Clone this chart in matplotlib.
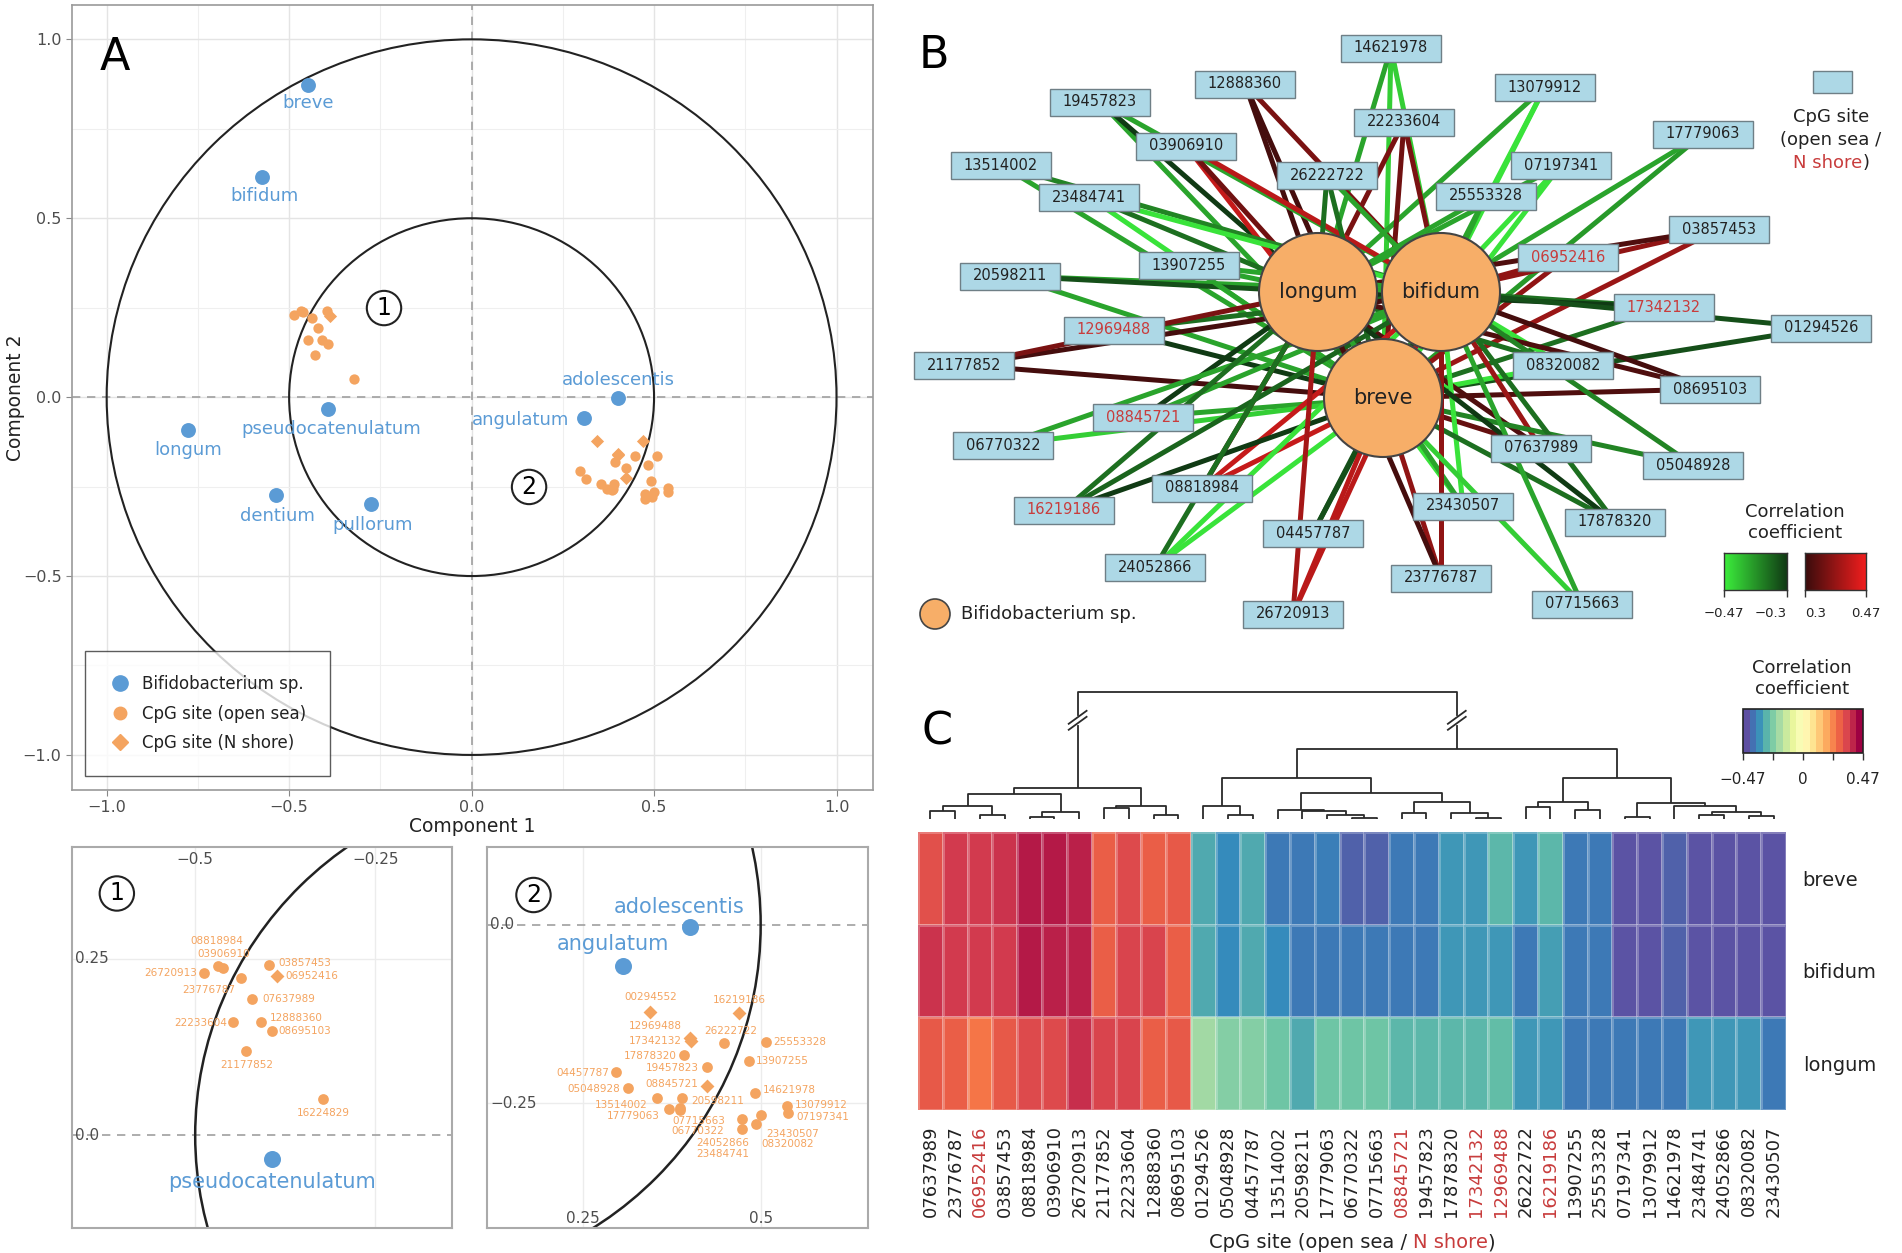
import numpy as np
import matplotlib
matplotlib.use("Agg")
import matplotlib.pyplot as plt
from matplotlib.patches import Circle, Rectangle
from matplotlib.colors import LinearSegmentedColormap, Normalize
from matplotlib.lines import Line2D
from matplotlib.cm import ScalarMappable

plt.rcParams['font.family'] = ['DejaVu Sans']

# ---------------- data ----------------
# Panel A: component scores of the species
species = ["breve", "bifidum", "longum", "pseudocatenulatum", "dentium",
           "pullorum", "adolescentis", "angulatum"]
species_c1 = [-0.447, -0.573, -0.778, -0.394, -0.537, -0.277, 0.401, 0.307]
species_c2 = [0.873, 0.615, -0.093, -0.033, -0.273, -0.299, -0.003, -0.057]

# Panel A: component scores of the CpG sites
cpg_ids = ["08818984", "03906910", "26720913", "23776787", "03857453", "06952416",
           "07637989", "22233604", "12888360", "08695103", "21177852", "16224829",
           "00294552", "16219186", "12969488", "17342132", "26222722", "25553328",
           "17878320", "13907255", "19457823", "04457787", "08845721", "14621978",
           "05048928", "13514002", "20598211", "17779063", "07715663", "06770322",
           "13079912", "07197341", "24052866", "23484741", "23430507", "08320082"]
cpg_c1 = [-0.468, -0.461, -0.488, -0.436, -0.397, -0.387, -0.421, -0.448, -0.409, -0.393,
          -0.429, -0.322, 0.345, 0.470, 0.400, 0.402, 0.448, 0.507, 0.392, 0.483, 0.424,
          0.296, 0.424, 0.492, 0.313, 0.354, 0.390, 0.371, 0.387, 0.386, 0.537, 0.539,
          0.474, 0.474, 0.501, 0.494]
cpg_c2 = [0.240, 0.237, 0.230, 0.222, 0.241, 0.226, 0.193, 0.160, 0.160, 0.148, 0.119,
          0.052, -0.122, -0.123, -0.158, -0.162, -0.165, -0.164, -0.182, -0.191, -0.199,
          -0.206, -0.225, -0.235, -0.229, -0.242, -0.242, -0.258, -0.256, -0.259, -0.254,
          -0.264, -0.272, -0.286, -0.266, -0.279]
shore_sites = ["06952416", "00294552", "16219186", "12969488", "17342132", "08845721"]

# Panel C: correlation matrix (columns in dendrogram order)
heat_sites = ["07637989", "23776787", "06952416", "03857453", "08818984", "03906910",
              "26720913", "21177852", "22233604", "12888360", "08695103", "01294526",
              "05048928", "04457787", "13514002", "20598211", "17779063", "06770322",
              "07715663", "08845721", "19457823", "17878320", "17342132", "12969488",
              "26222722", "16219186", "13907255", "25553328", "07197341", "13079912",
              "14621978", "23484741", "24052866", "08320082", "23430507"]
heat_rows = ["breve", "bifidum", "longum"]
r_breve = [0.34, 0.38, 0.38, 0.39, 0.43, 0.43, 0.42, 0.31, 0.35, 0.31, 0.32,
           -0.32, -0.37, -0.32, -0.40, -0.40, -0.39, -0.44, -0.44, -0.40, -0.40,
           -0.35, -0.35, -0.30, -0.35, -0.30, -0.40, -0.40, -0.46, -0.46, -0.44,
           -0.46, -0.46, -0.46, -0.46]
r_bifidum = [0.39, 0.38, 0.38, 0.38, 0.43, 0.42, 0.42, 0.31, 0.36, 0.36, 0.31,
             -0.32, -0.37, -0.32, -0.37, -0.40, -0.40, -0.40, -0.40, -0.40, -0.40,
             -0.35, -0.35, -0.35, -0.40, -0.34, -0.40, -0.40, -0.46, -0.46, -0.44,
             -0.46, -0.46, -0.46, -0.46]
r_longum = [0.32, 0.31, 0.27, 0.32, 0.35, 0.35, 0.40, 0.36, 0.36, 0.31, 0.32,
            -0.20, -0.24, -0.24, -0.27, -0.32, -0.27, -0.27, -0.27, -0.30, -0.30,
            -0.30, -0.30, -0.29, -0.35, -0.35, -0.40, -0.40, -0.40, -0.40, -0.40,
            -0.35, -0.35, -0.35, -0.40]

# Panel C: dendrogram merges (child a, child b, height); leaves 0..34, nodes 35..
dendro_merges = [
    (0, 1, 8.3), (2, 3, 4.3), (35, 36, 13.3), (4, 5, 2.3), (38, 6, 7.6),
    (37, 39, 25.0), (7, 8, 11.0), (9, 10, 4.3), (41, 42, 13.3), (40, 43, 31.6),
    (12, 13, 4.3), (11, 45, 13.3), (17, 18, 1.0), (16, 47, 4.3), (15, 48, 8.3),
    (14, 49, 9.3), (22, 23, 1.0), (21, 51, 6.0), (19, 20, 6.0), (53, 52, 17.0),
    (50, 54, 26.0), (46, 55, 41.6), (24, 25, 12.3), (26, 27, 9.3), (57, 58, 17.0),
    (28, 29, 2.6), (31, 32, 4.3), (33, 34, 3.3), (61, 62, 7.6), (30, 63, 13.3),
    (60, 64, 16.5), (59, 65, 41.3), (56, 66, 70.3), (44, 67, 127.6),
]

# Panel B: network layout (pixel frame of the panel)
net_sites = ["14621978", "12888360", "19457823", "13079912", "22233604", "03906910",
             "17779063", "13514002", "07197341", "26222722", "23484741", "25553328",
             "03857453", "06952416", "20598211", "13907255", "17342132", "12969488",
             "01294526", "21177852", "08320082", "08695103", "08845721", "06770322",
             "07637989", "05048928", "08818984", "16219186", "23430507", "17878320",
             "04457787", "24052866", "23776787", "07715663", "26720913"]
net_x = [1391, 1245, 1100, 1545, 1404, 1186, 1703, 1001, 1561, 1327, 1089, 1486, 1719,
         1568, 1010, 1189, 1664, 1114, 1821, 964, 1563, 1710, 1143, 1003, 1541, 1693,
         1202, 1064, 1463, 1615, 1313, 1155, 1441, 1582, 1293]
net_y = [48, 84, 102, 87, 122, 146, 134, 165, 165, 175, 197, 196, 229, 257, 276, 265,
         307, 330, 328, 365, 365, 389, 417, 445, 448, 465, 488, 510, 506, 522, 533, 567,
         578, 604, 614]
hub_names = ["breve", "bifidum", "longum"]
hub_x = [1383, 1441, 1318]
hub_y = [398, 292, 292]

# ---------------- style ----------------
BLUE = '#5B9BD5'
ORANGE = '#F4A460'
HUB = '#F7AE68'
BOXC = '#ADD8E6'
RED_TXT = '#C83C3C'
DARK = '#222222'

W, H = 1902, 1253
fig = plt.figure(figsize=(W / 100, H / 100), dpi=100)


def add_px_axes(x0, y0, x1, y1):
    return fig.add_axes([x0 / W, 1 - y1 / H, (x1 - x0) / W, (y1 - y0) / H])


def fig_text(x, y, s, **kw):
    return fig.text(x / W, 1 - y / H, s, **kw)


def colored_line(x, y, parts, size, gap=0.0):
    """Centered line of text made of differently coloured pieces."""
    rend = fig.canvas.get_renderer()
    items = [fig.text(0, 0, s, color=c, fontsize=size, ha='left', va='center')
             for s, c in parts]
    widths = [t.get_window_extent(rend).width for t in items]
    gaps = [gap if i == 0 else 0 for i in range(len(items) - 1)]
    cur = x - (sum(widths) + sum(gaps)) / 2
    for i, t in enumerate(items):
        t.set_position((cur / W, 1 - y / H))
        cur += widths[i] + (gaps[i] if i < len(gaps) else 0)


is_shore = np.array([c in shore_sites for c in cpg_ids])
cx = np.array(cpg_c1)
cy = np.array(cpg_c2)

# ---------------- panel A ----------------
axA = add_px_axes(72, 5, 873, 790)
axA.set_xlim(-1.095, 1.10)
axA.set_ylim(-1.098, 1.096)
ticks = [-1, -0.5, 0, 0.5, 1]
axA.set_xticks(ticks)
axA.set_yticks(ticks)
axA.set_xticks([-0.75, -0.25, 0.25, 0.75], minor=True)
axA.set_yticks([-0.75, -0.25, 0.25, 0.75], minor=True)
axA.grid(which='major', color='#e4e4e4', lw=1.0)
axA.grid(which='minor', color='#efefef', lw=0.8)
axA.set_axisbelow(True)
axA.tick_params(which='minor', length=0)
axA.tick_params(which='major', length=4, color='#888888', labelsize=11.5,
                labelcolor='#4d4d4d')
for sp in axA.spines.values():
    sp.set_color('#9a9a9a')
    sp.set_linewidth(1.2)
axA.axhline(0, color='#a0a0a0', ls=(0, (5, 4)), lw=1.2, zorder=1)
axA.axvline(0, color='#a0a0a0', ls=(0, (5, 4)), lw=1.2, zorder=1)
for rad in (1.0, 0.5):
    axA.add_patch(Circle((0, 0), rad, fill=False, ec=DARK, lw=1.5, zorder=2))

axA.scatter(cx[~is_shore], cy[~is_shore], s=55, color=ORANGE, lw=0, zorder=3)
axA.scatter(cx[is_shore], cy[is_shore], s=45, marker='D', color=ORANGE, lw=0, zorder=3)
axA.scatter(species_c1, species_c2, s=115, color=BLUE, lw=0, zorder=4)

main_label_off = {"breve": (0, 18, 'center'), "bifidum": (2, 19, 'center'),
                  "longum": (0, 20, 'center'), "pseudocatenulatum": (3, 20, 'center'),
                  "dentium": (2, 21, 'center'), "pullorum": (2, 21, 'center'),
                  "adolescentis": (0, -18, 'center'), "angulatum": (-14, 2, 'right')}
for name, x, y in zip(species, species_c1, species_c2):
    dx, dy, ha = main_label_off[name]
    axA.annotate(name, (x, y), xytext=(dx, -dy), textcoords='offset pixels',
                 ha=ha, va='center', fontsize=13, color=BLUE, zorder=5)

circ = dict(boxstyle='circle,pad=0.22', fc='white', ec=DARK, lw=1.5)
axA.text(-0.240, 0.249, '1', fontsize=17, ha='center', va='center', bbox=circ, zorder=5)
axA.text(0.1575, -0.251, '2', fontsize=17, ha='center', va='center', bbox=circ, zorder=5)

axA.set_xlabel('Component 1', fontsize=13.5, color=DARK)
axA.set_ylabel('Component 2', fontsize=13.5, color=DARK)
axA.xaxis.label.set_va('center')
axA.yaxis.label.set_va('center')
axA.xaxis.set_label_coords(0.5, -0.046)
axA.yaxis.set_label_coords(-0.070, 0.5)

handles = [Line2D([], [], marker='o', ls='', color=BLUE, ms=11, label='Bifidobacterium sp.'),
           Line2D([], [], marker='o', ls='', color=ORANGE, ms=9, label='CpG site (open sea)'),
           Line2D([], [], marker='D', ls='', color=ORANGE, ms=8, label='CpG site (N shore)')]
leg = axA.legend(handles=handles, loc='lower left', bbox_to_anchor=(0.0157, 0.0172),
                 borderaxespad=0, fontsize=12, fancybox=False, edgecolor='#333333',
                 borderpad=1.45, labelspacing=0.7, handletextpad=0.6, handlelength=1.4)
leg.get_frame().set_linewidth(1.0)
for t in leg.get_texts():
    t.set_color(DARK)

fig_text(115, 57, 'A', fontsize=32, ha='center', va='center', color='black')

# ---------------- insets of panel A ----------------
inset1_off = {"08818984": (-1, -25, 'center'), "03906910": (0, -14, 'center'),
              "26720913": (-7, 0, 'right'), "23776787": (-33, 12, 'center'),
              "03857453": (9, -2, 'left'), "06952416": (9, 0, 'left'),
              "07637989": (10, 0, 'left'), "22233604": (-6, 1, 'right'),
              "12888360": (9, -4, 'left'), "08695103": (6, 0, 'left'),
              "21177852": (0, 14, 'center'), "16224829": (0, 14, 'center')}
inset2_off = {"00294552": (0, -15, 'center'), "16219186": (0, -13, 'center'),
              "12969488": (-8, -12, 'right'), "17342132": (-9, 0, 'right'),
              "26222722": (7, -12, 'center'), "25553328": (8, 0, 'left'),
              "17878320": (-7, 1, 'right'), "13907255": (7, 0, 'left'),
              "19457823": (-8, 1, 'right'), "04457787": (-6, 1, 'right'),
              "08845721": (-8, -2, 'right'), "14621978": (8, -3, 'left'),
              "05048928": (-8, 1, 'right'), "13514002": (-9, 7, 'right'),
              "20598211": (9, 3, 'left'), "17779063": (-9, 7, 'right'),
              "07715663": (18, 13, 'center'), "06770322": (18, 21, 'center'),
              "13079912": (8, -1, 'left'), "07197341": (8, 4, 'left'),
              "24052866": (-19, 24, 'center'), "23484741": (-19, 25, 'center'),
              "23430507": (31, 19, 'center'), "08320082": (31, 20, 'center')}
inset_species_off = {"pseudocatenulatum": (0, 23), "adolescentis": (-11, -20),
                     "angulatum": (-11, -22)}


def draw_inset(box, xlim, ylim, gx, gy, xlab_y, offsets, tag, tag_pos):
    ax = add_px_axes(*box)
    ax.set_xlim(*xlim)
    ax.set_ylim(*ylim)
    ax.set_xticks([])
    ax.set_yticks([])
    for sp in ax.spines.values():
        sp.set_color('#aaaaaa')
        sp.set_linewidth(1.5)
    for v in gx:
        ax.axvline(v, color='#ececec', lw=1.0, zorder=0)
    for v in gy:
        ax.axhline(v, color='#ececec', lw=1.0, zorder=0)
    ax.axhline(0, color='#a0a0a0', ls=(0, (5, 4)), lw=1.2, zorder=1)
    ax.add_patch(Circle((0, 0), 0.5, fill=False, ec=DARK, lw=1.8, zorder=2))
    ax.scatter(cx[~is_shore], cy[~is_shore], s=60, color=ORANGE, lw=0, zorder=3)
    ax.scatter(cx[is_shore], cy[is_shore], s=50, marker='D', color=ORANGE, lw=0, zorder=3)
    ax.scatter(species_c1, species_c2, s=150, color=BLUE, lw=0, zorder=4)
    for cid, x, y in zip(cpg_ids, cpg_c1, cpg_c2):
        if cid in offsets:
            dx, dy, ha = offsets[cid]
            ax.annotate(cid, (x, y), xytext=(dx, -dy), textcoords='offset pixels',
                        ha=ha, va='center', fontsize=7.5, color=ORANGE, zorder=5)
    for name, x, y in zip(species, species_c1, species_c2):
        if name in inset_species_off and xlim[0] < x < xlim[1] and ylim[0] < y < ylim[1]:
            dx, dy = inset_species_off[name]
            ax.annotate(name, (x, y), xytext=(dx, -dy), textcoords='offset pixels',
                        ha='center', va='center', fontsize=15, color=BLUE, zorder=5)
    for v in gx:
        ax.text(v, xlab_y, f'{v:g}'.replace('-', '\u2212'), transform=ax.get_xaxis_transform(),
                ha='center', va='center', fontsize=11, color='#4d4d4d')
    for v in sorted(set(gy) | {0.0}):
        lab = '0.0' if v == 0 else f'{v:g}'.replace('-', '\u2212')
        ax.text(0.008, v, lab, transform=ax.get_yaxis_transform(),
                ha='left', va='center', fontsize=11, color='#4d4d4d')
    ax.text(tag_pos[0], tag_pos[1], tag, transform=ax.transAxes, fontsize=17,
            ha='center', va='center', bbox=circ, zorder=6)
    return ax


draw_inset((72, 847, 452, 1228), (-0.671, -0.1435), (-0.131, 0.408),
           [-0.5, -0.25], [0.25], 0.966, inset1_off, '1', (0.118, 0.878))
draw_inset((487, 847, 868, 1228), (0.115, 0.651), (-0.4245, 0.109),
           [0.25, 0.5], [-0.25], 0.026, inset2_off, '2', (0.122, 0.874))

# ---------------- panel B ----------------
heat = [r_breve, r_bifidum, r_longum]
neg_cmap = LinearSegmentedColormap.from_list('neg', ['#3cee3c', '#103a14'])
pos_cmap = LinearSegmentedColormap.from_list('pos', ['#3a0c0c', '#f01e1e'])
neg_norm = Normalize(-0.47, -0.30, clip=True)
pos_norm = Normalize(0.30, 0.47, clip=True)

axB = add_px_axes(900, 0, 1902, 640)
axB.set_xlim(900, 1902)
axB.set_ylim(640, 0)
axB.axis('off')

for site, x, y in zip(net_sites, net_x, net_y):
    j = heat_sites.index(site)
    for hi, hname in enumerate(heat_rows):
        r = heat[hi][j]
        if abs(r) < 0.295:
            continue
        col = neg_cmap(neg_norm(r)) if r < 0 else pos_cmap(pos_norm(r))
        k = hub_names.index(hname)
        axB.plot([x, hub_x[k]], [y, hub_y[k]], color=col, lw=3.6,
                 solid_capstyle='butt', zorder=1)

for name, x, y in zip(hub_names, hub_x, hub_y):
    axB.add_patch(Circle((x, y), 59, fc=HUB, ec='#444444', lw=1.5, zorder=3))
    axB.text(x, y, name, fontsize=15, ha='center', va='center', color=DARK, zorder=4)

bw, bh = 100, 27
for site, x, y in zip(net_sites, net_x, net_y):
    axB.add_patch(Rectangle((x - bw / 2, y - bh / 2), bw, bh, fc=BOXC, ec='#6f7f86',
                            lw=1.0, zorder=5))
    axB.text(x, y, site, fontsize=10.5, ha='center', va='center', zorder=6,
             color=RED_TXT if site in shore_sites else DARK)

# legend of panel B
axB.add_patch(Rectangle((1813, 71), 39, 22, fc=BOXC, ec='#6f7f86', lw=1.0))
fig_text(1831, 117, 'CpG site', fontsize=13, ha='center', va='center', color=DARK)
fig_text(1831, 140, '(open sea /', fontsize=13, ha='center', va='center', color=DARK)
colored_line(1831, 163, [('N shore', RED_TXT), (')', DARK)], 13)

axB.add_patch(Circle((935, 614), 15, fc=HUB, ec='#444444', lw=1.2))
fig_text(961, 614, 'Bifidobacterium sp.', fontsize=13, ha='left', va='center', color=DARK)

fig_text(1795, 512, 'Correlation', fontsize=13, ha='center', va='center', color=DARK)
fig_text(1795, 533, 'coefficient', fontsize=13, ha='center', va='center', color=DARK)

for box, cmap, norm, lo, hi, labs in [
        ((1724, 553, 1787, 590), neg_cmap, neg_norm, -0.47, -0.30, ['\u22120.47', '\u22120.3']),
        ((1805, 553, 1866, 590), pos_cmap, pos_norm, 0.30, 0.47, ['0.3', '0.47'])]:
    cax = add_px_axes(*box)
    grad = np.linspace(lo, hi, 200).reshape(1, -1)
    cax.imshow(grad, cmap=cmap, norm=norm, aspect='auto', extent=(lo, hi, 0, 1))
    cax.set_xlim(lo, hi)
    cax.set_yticks([])
    cax.set_xticks([lo, hi])
    cax.set_xticklabels(labs)
    cax.tick_params(axis='x', length=5, width=1, color='#333333', labelsize=9.5,
                    pad=7, labelcolor=DARK)
    for sp in cax.spines.values():
        sp.set_color('#333333')
        sp.set_linewidth(1.0)
    tl = cax.get_xticklabels()
    if lo < 0:
        tl[1].set_ha('right')
    else:
        tl[0].set_ha('left')

fig_text(934, 55, 'B', fontsize=32, ha='center', va='center', color='black')

# ---------------- panel C ----------------
vals = np.array(heat)
axH = add_px_axes(918, 832, 1786, 1110)
axH.pcolormesh(np.arange(len(heat_sites) + 1), np.arange(len(heat_rows) + 1), vals,
               cmap='Spectral_r', vmin=-0.47, vmax=0.47,
               edgecolors=(1, 1, 1, 0.25), linewidth=0.8)
axH.set_xlim(0, len(heat_sites))
axH.set_ylim(len(heat_rows), 0)
axH.set_xticks(np.arange(len(heat_sites)) + 0.5)
axH.set_xticklabels(heat_sites, rotation=90, fontsize=13)
for t, s in zip(axH.get_xticklabels(), heat_sites):
    t.set_color(RED_TXT if s in shore_sites else DARK)
axH.set_yticks(np.arange(len(heat_rows)) + 0.5)
axH.set_yticklabels(heat_rows, fontsize=14, color=DARK)
axH.yaxis.tick_right()
axH.tick_params(axis='x', length=0, pad=11)
axH.tick_params(axis='y', length=0, pad=12)
for sp in axH.spines.values():
    sp.set_visible(False)

colored_line(1352, 1243, [('CpG site (open sea /', DARK), ('N shore', RED_TXT),
                          (')', DARK)], 14, gap=0.318 * 14 * 100 / 72)

# dendrogram
axD = add_px_axes(918, 680, 1786, 832)
axD.set_xlim(0, len(heat_sites))
axD.set_ylim(-12.7, 139.3)
axD.axis('off')
n_leaf = len(heat_sites)
pos = {i: i + 0.5 for i in range(n_leaf)}
hgt = {i: 0.0 for i in range(n_leaf)}
for k, (a, b, h) in enumerate(dendro_merges):
    axD.plot([pos[a], pos[a], pos[b], pos[b]], [hgt[a], h, h, hgt[b]],
             color='#2a2a2a', lw=1.3, solid_capstyle='butt')
    pos[n_leaf + k] = (pos[a] + pos[b]) / 2
    hgt[n_leaf + k] = h
root_a, root_b, _ = dendro_merges[-1]
for node in (root_a, root_b):
    x = pos[node]
    axD.plot([x, x], [96.5, 101.5], color='white', lw=3, zorder=3)
    for hc in (96.0, 102.0):
        axD.plot([x - 0.36, x + 0.36], [hc - 6.5, hc + 6.5], color='#2a2a2a',
                 lw=1.3, zorder=4)

# colour key of panel C
caxC = add_px_axes(1743, 709, 1863, 753)
sm = ScalarMappable(norm=Normalize(-0.47, 0.47),
                    cmap=plt.get_cmap('Spectral_r').resampled(18))
cb = fig.colorbar(sm, cax=caxC, orientation='horizontal',
                  ticks=[-0.47, -0.235, 0, 0.235, 0.47])
cb.set_ticklabels(['\u22120.47', '', '0', '', '0.47'])
cb.ax.tick_params(length=5, width=1, color='#333333', labelsize=11, pad=9,
                  labelcolor=DARK)
cb.outline.set_linewidth(1.2)
cb.outline.set_edgecolor('#222222')
fig_text(1802, 668, 'Correlation', fontsize=13, ha='center', va='center', color=DARK)
fig_text(1802, 689, 'coefficient', fontsize=13, ha='center', va='center', color=DARK)

fig_text(937, 732, 'C', fontsize=32, ha='center', va='center', color='black')

fig.savefig('out.png', dpi=100)
